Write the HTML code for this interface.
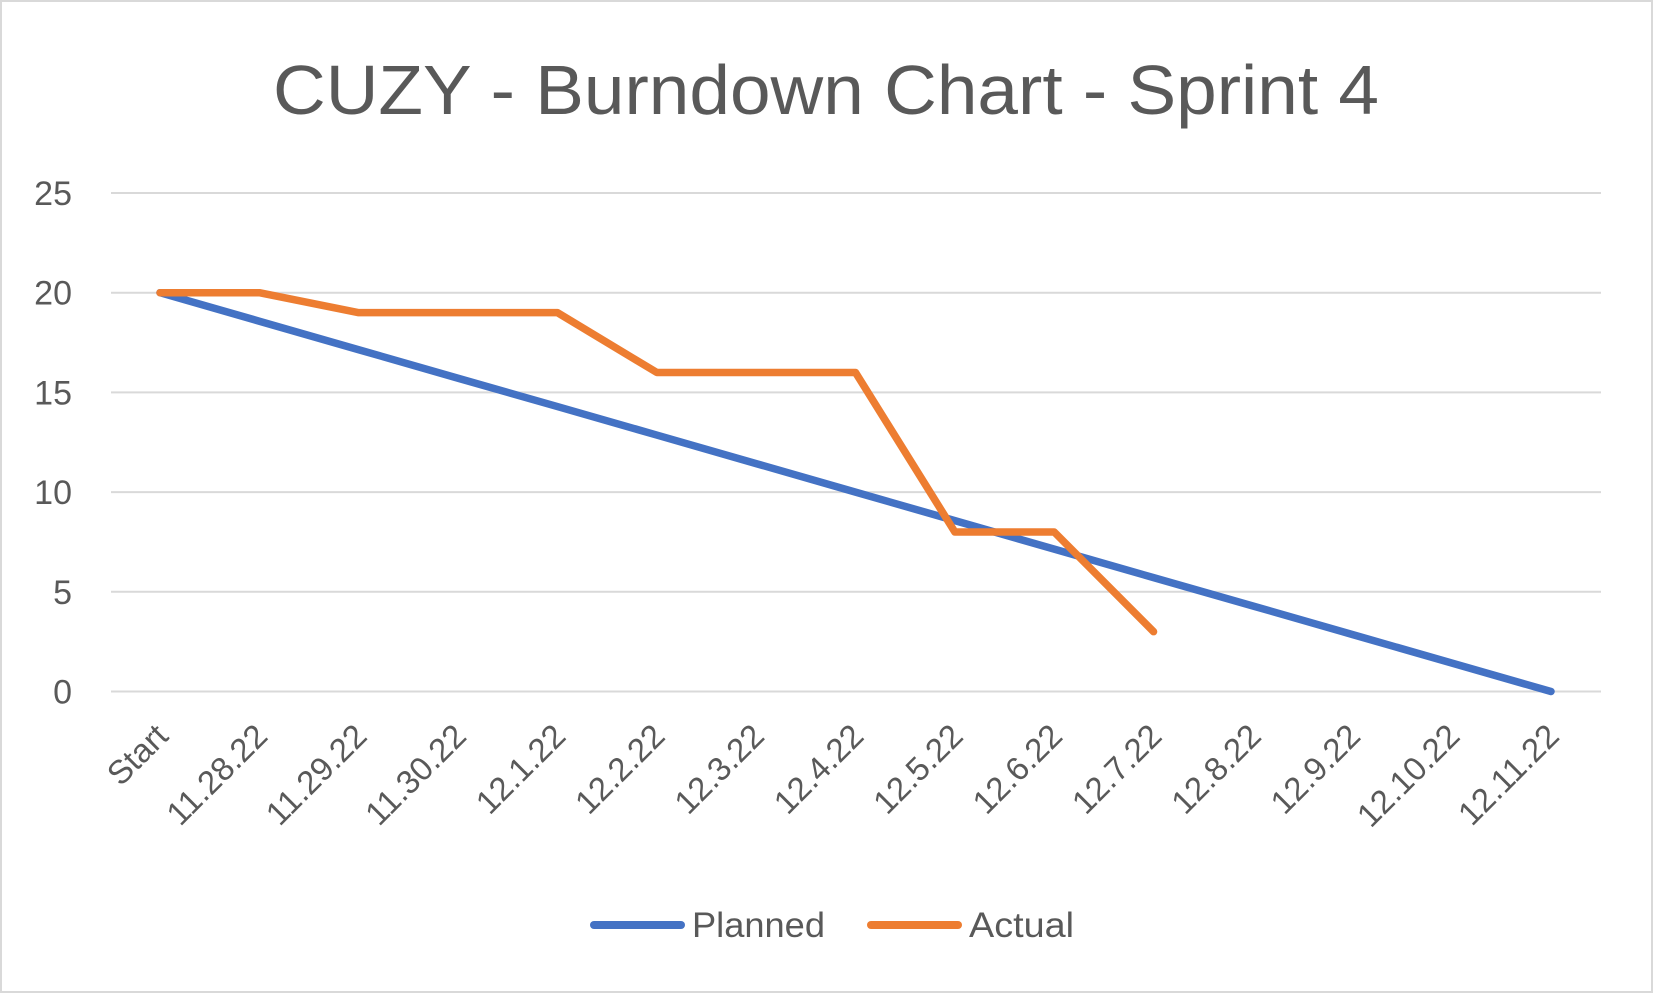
<!DOCTYPE html>
<html><head><meta charset="utf-8"><style>
body{margin:0;background:#fff}
svg{display:block;font-family:"Liberation Sans",sans-serif}
</style></head><body>
<svg id="chart" width="1653" height="993">
<rect x="1" y="1" width="1651" height="991" fill="#fff" stroke="#d9d9d9" stroke-width="2"/>
<text x="826" y="114" text-anchor="middle" font-size="70" fill="#595959" textLength="1106" lengthAdjust="spacingAndGlyphs">CUZY - Burndown Chart - Sprint 4</text>
<g id="grid"></g><g id="xl"></g><g id="series"></g>
<g>
<line x1="594" y1="925" x2="681" y2="925" stroke="#4472c4" stroke-width="8" stroke-linecap="round"/>
<text x="692" y="937" font-size="35" fill="#595959" textLength="133" lengthAdjust="spacingAndGlyphs">Planned</text>
<line x1="871" y1="925" x2="958" y2="925" stroke="#ed7d31" stroke-width="8" stroke-linecap="round"/>
<text x="969" y="937" font-size="35" fill="#595959" textLength="105" lengthAdjust="spacingAndGlyphs">Actual</text>
</g>
</svg>
<script>
const categories=["Start","11.28.22","11.29.22","11.30.22","12.1.22","12.2.22","12.3.22","12.4.22","12.5.22","12.6.22","12.7.22","12.8.22","12.9.22","12.10.22","12.11.22"];
const planned=[20,18.57,17.14,15.71,14.29,12.86,11.43,10,8.57,7.14,5.71,4.29,2.86,1.43,0];
const actual=[20,20,19,19,19,16,16,16,8,8,3];
const yTicks=[0,5,10,15,20,25];
const NS="http://www.w3.org/2000/svg";
const x=i=>160+i*(1551-160)/(categories.length-1);
const y=v=>691.5-v*(691.5-193)/25;
function mk(t,a,p){const e=document.createElementNS(NS,t);for(const k in a)e.setAttribute(k,a[k]);p.appendChild(e);return e;}
const g=document.getElementById('grid');
yTicks.forEach(v=>{
 const l=mk('line',{x1:111,x2:1601,y1:y(v),y2:y(v),stroke:'#d9d9d9','stroke-width':2},g);
 
 
 const t=mk('text',{x:72,y:y(v)+12,'text-anchor':'end','font-size':34,fill:'#595959'},g);
 t.textContent=v;
 
 
});
const xl=document.getElementById('xl');
categories.forEach((c,i)=>{
 const px=x(i)+10,py=738;
 const t=mk('text',{x:px,y:py,'text-anchor':'end','font-size':33,fill:'#595959',transform:`rotate(-45 ${px} ${py})`},xl);
 t.textContent=c;
 
 
});
const s=document.getElementById('series');
const pl=mk('polyline',{points:planned.map((v,i)=>x(i)+','+y(v)).join(' '),fill:'none',stroke:'#4472c4','stroke-width':7.5,'stroke-linecap':'round','stroke-linejoin':'round'},s);


const al=mk('polyline',{points:actual.map((v,i)=>x(i)+','+y(v)).join(' '),fill:'none',stroke:'#ed7d31','stroke-width':7.5,'stroke-linecap':'round','stroke-linejoin':'round'},s);


</script>
</body></html>
